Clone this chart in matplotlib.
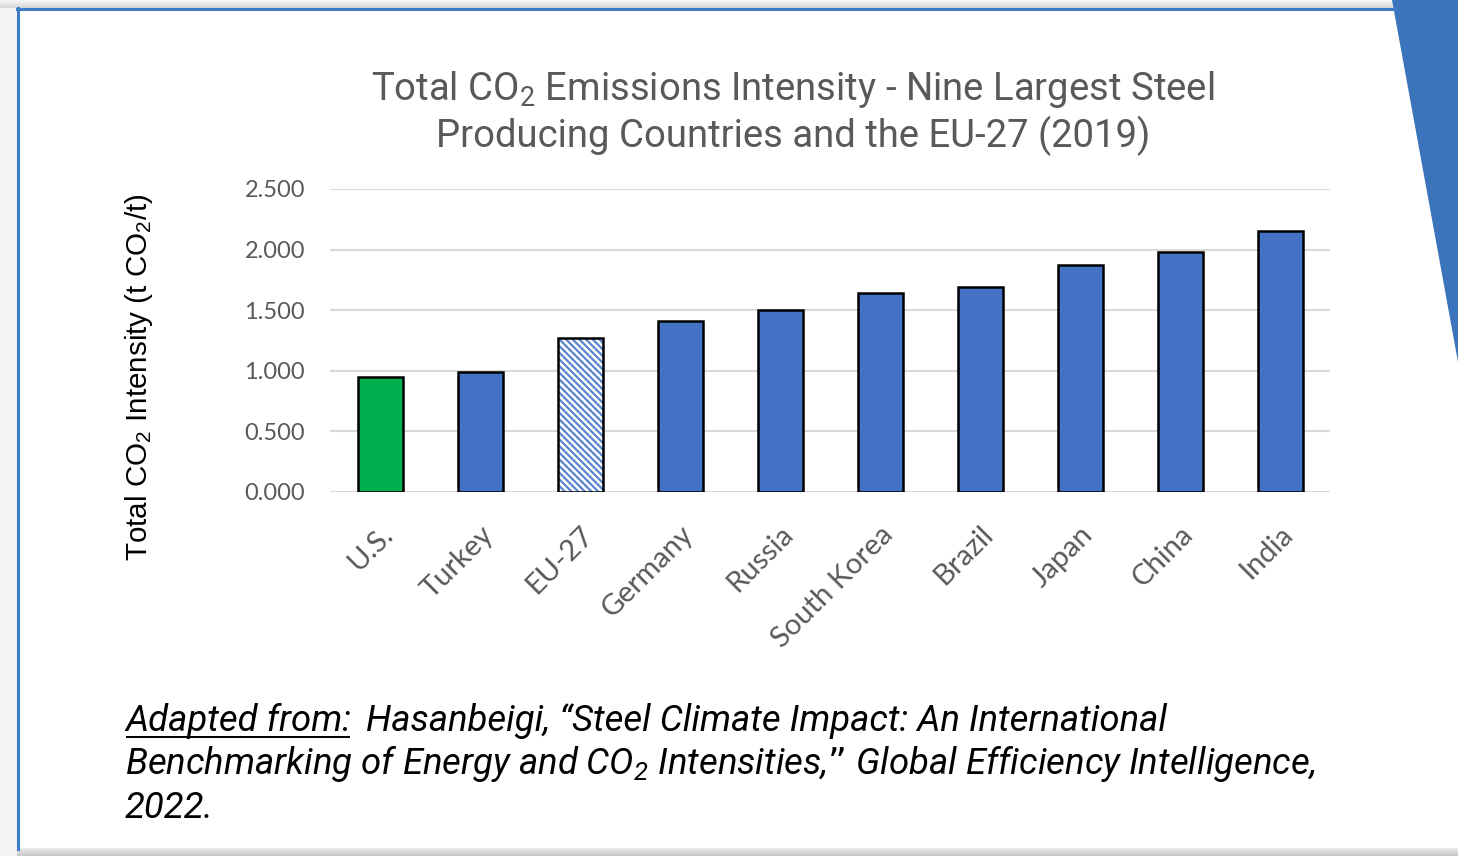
import matplotlib
matplotlib.use("Agg")
import matplotlib.pyplot as plt
import numpy as np
from matplotlib.patches import Polygon, Rectangle
from matplotlib.lines import Line2D
from matplotlib.transforms import ScaledTranslation

countries = ["U.S.", "Turkey", "EU-27", "Germany", "Russia", "South Korea",
             "Brazil", "Japan", "China", "India"]
intensity = [0.95, 0.99, 1.27, 1.41, 1.50, 1.64, 1.69, 1.87, 1.98, 2.15]
yticks = [0.0, 0.5, 1.0, 1.5, 2.0, 2.5]

blue = "#4472C4"
green = "#00B050"
grey_txt = "#595959"
grid_col = "#d9d9d9"
frame_blue = "#3d7cc6"

plt.rcParams["mathtext.default"] = "regular"
plt.rcParams["hatch.linewidth"] = 1.6

W, H = 1458, 856
fig = plt.figure(figsize=(W / 100, H / 100), dpi=100)
fig.patch.set_facecolor("white")

# slide decoration, drawn in pixel coordinates
bg = fig.add_axes([0, 0, 1, 1])
bg.set_xlim(0, W)
bg.set_ylim(H, 0)
bg.axis("off")
grad = np.linspace(0.97, 0.84, 20).reshape(-1, 1)
bg.imshow(grad, cmap="gray", vmin=0, vmax=1, extent=(0, W, 8, 0), aspect="auto")
bg.add_patch(Rectangle((0, 8), 17, H, color="#f4f4f4", lw=0))
shadow = np.linspace(0.92, 0.78, 10).reshape(-1, 1)
bg.imshow(shadow, cmap="gray", vmin=0, vmax=1, extent=(0, W, H, 848), aspect="auto")
bg.add_line(Line2D([17, 1395], [8.5, 8.5], color=frame_blue, lw=2.2))
bg.add_line(Line2D([18.5, 18.5], [8, 849], color=frame_blue, lw=2.2))
bg.add_patch(Polygon([(1392, 0), (W, 0), (W, 362)], closed=True,
                     color="#3b74ba", lw=0))

# title
title_font = dict(family="Roboto", size=27.5, color=grey_txt)
bg.text(793, 100, "Total CO$_2$ Emissions Intensity - Nine Largest Steel",
        ha="center", va="baseline", **title_font)
bg.text(793, 147, "Producing Countries and the EU-27 (2019)",
        ha="center", va="baseline", **title_font)

# y label
bg.text(139, 377, "Total CO$_2$ Intensity (t CO$_2$/t)", rotation=90,
        ha="center", va="center", family="Liberation Sans", size=21.3, color="black")

# caption
cap_font = dict(family="Roboto", size=26.3, style="italic", color="black")
t0 = bg.text(125, 731, "Adapted from:", ha="left", va="baseline", **cap_font)
bg.text(366, 731, "Hasanbeigi, \u201cSteel Climate Impact: An International",
        ha="left", va="baseline", **cap_font)
bg.text(125, 774, "Benchmarking of Energy and CO$_2$ Intensities,\u201d Global Efficiency Intelligence,",
        ha="left", va="baseline", **cap_font)
bg.text(125, 818, "2022.", ha="left", va="baseline", **cap_font)

fig.canvas.draw()
bb = t0.get_window_extent()
inv = bg.transData.inverted()
(x0, _), (x1, _) = inv.transform([[bb.x0, bb.y0], [bb.x1, bb.y0]])
bg.add_line(Line2D([x0 + 2, x1 - 2], [737, 737], color="black", lw=1.4))

# chart
ax = fig.add_axes([330 / W, 1 - 492 / H, 1000 / W, 303 / H])
ax.patch.set_alpha(0)
x = np.arange(len(countries))
colors = [green if c == "U.S." else blue for c in countries]
hatched = [c == "EU-27" for c in countries]

for xi, v, col, h in zip(x, intensity, colors, hatched):
    if h:
        ax.bar(xi, v, width=0.45, color="white", edgecolor="#5a86d0",
               hatch="\\\\\\\\\\", lw=0, zorder=3)
        ax.bar(xi, v, width=0.45, fill=False, edgecolor="black", lw=1.8, zorder=4)
    else:
        ax.bar(xi, v, width=0.45, color=col, edgecolor="black", lw=1.8, zorder=3)

ax.set_xlim(-0.5, len(countries) - 0.5)
ax.set_ylim(0, 2.5)
ax.set_yticks(yticks)
ax.set_yticklabels([f"{t:.3f}" for t in yticks], family="Lato", size=17, color=grey_txt)
ax.set_xticks(x)
ax.set_xticklabels(countries, rotation=45, ha="right", rotation_mode="anchor",
                   family="Lato", size=21, color=grey_txt)
shift = ScaledTranslation(-6 / 100, 0, fig.dpi_scale_trans)
for lab in ax.get_xticklabels():
    lab.set_transform(lab.get_transform() + shift)
ax.tick_params(axis="both", length=0)
ax.tick_params(axis="y", pad=18)
ax.tick_params(axis="x", pad=21)
ax.grid(axis="y", color=grid_col, lw=1.5, zorder=0)
for s in ax.spines.values():
    s.set_visible(False)

fig.savefig("out.png", dpi=100)
